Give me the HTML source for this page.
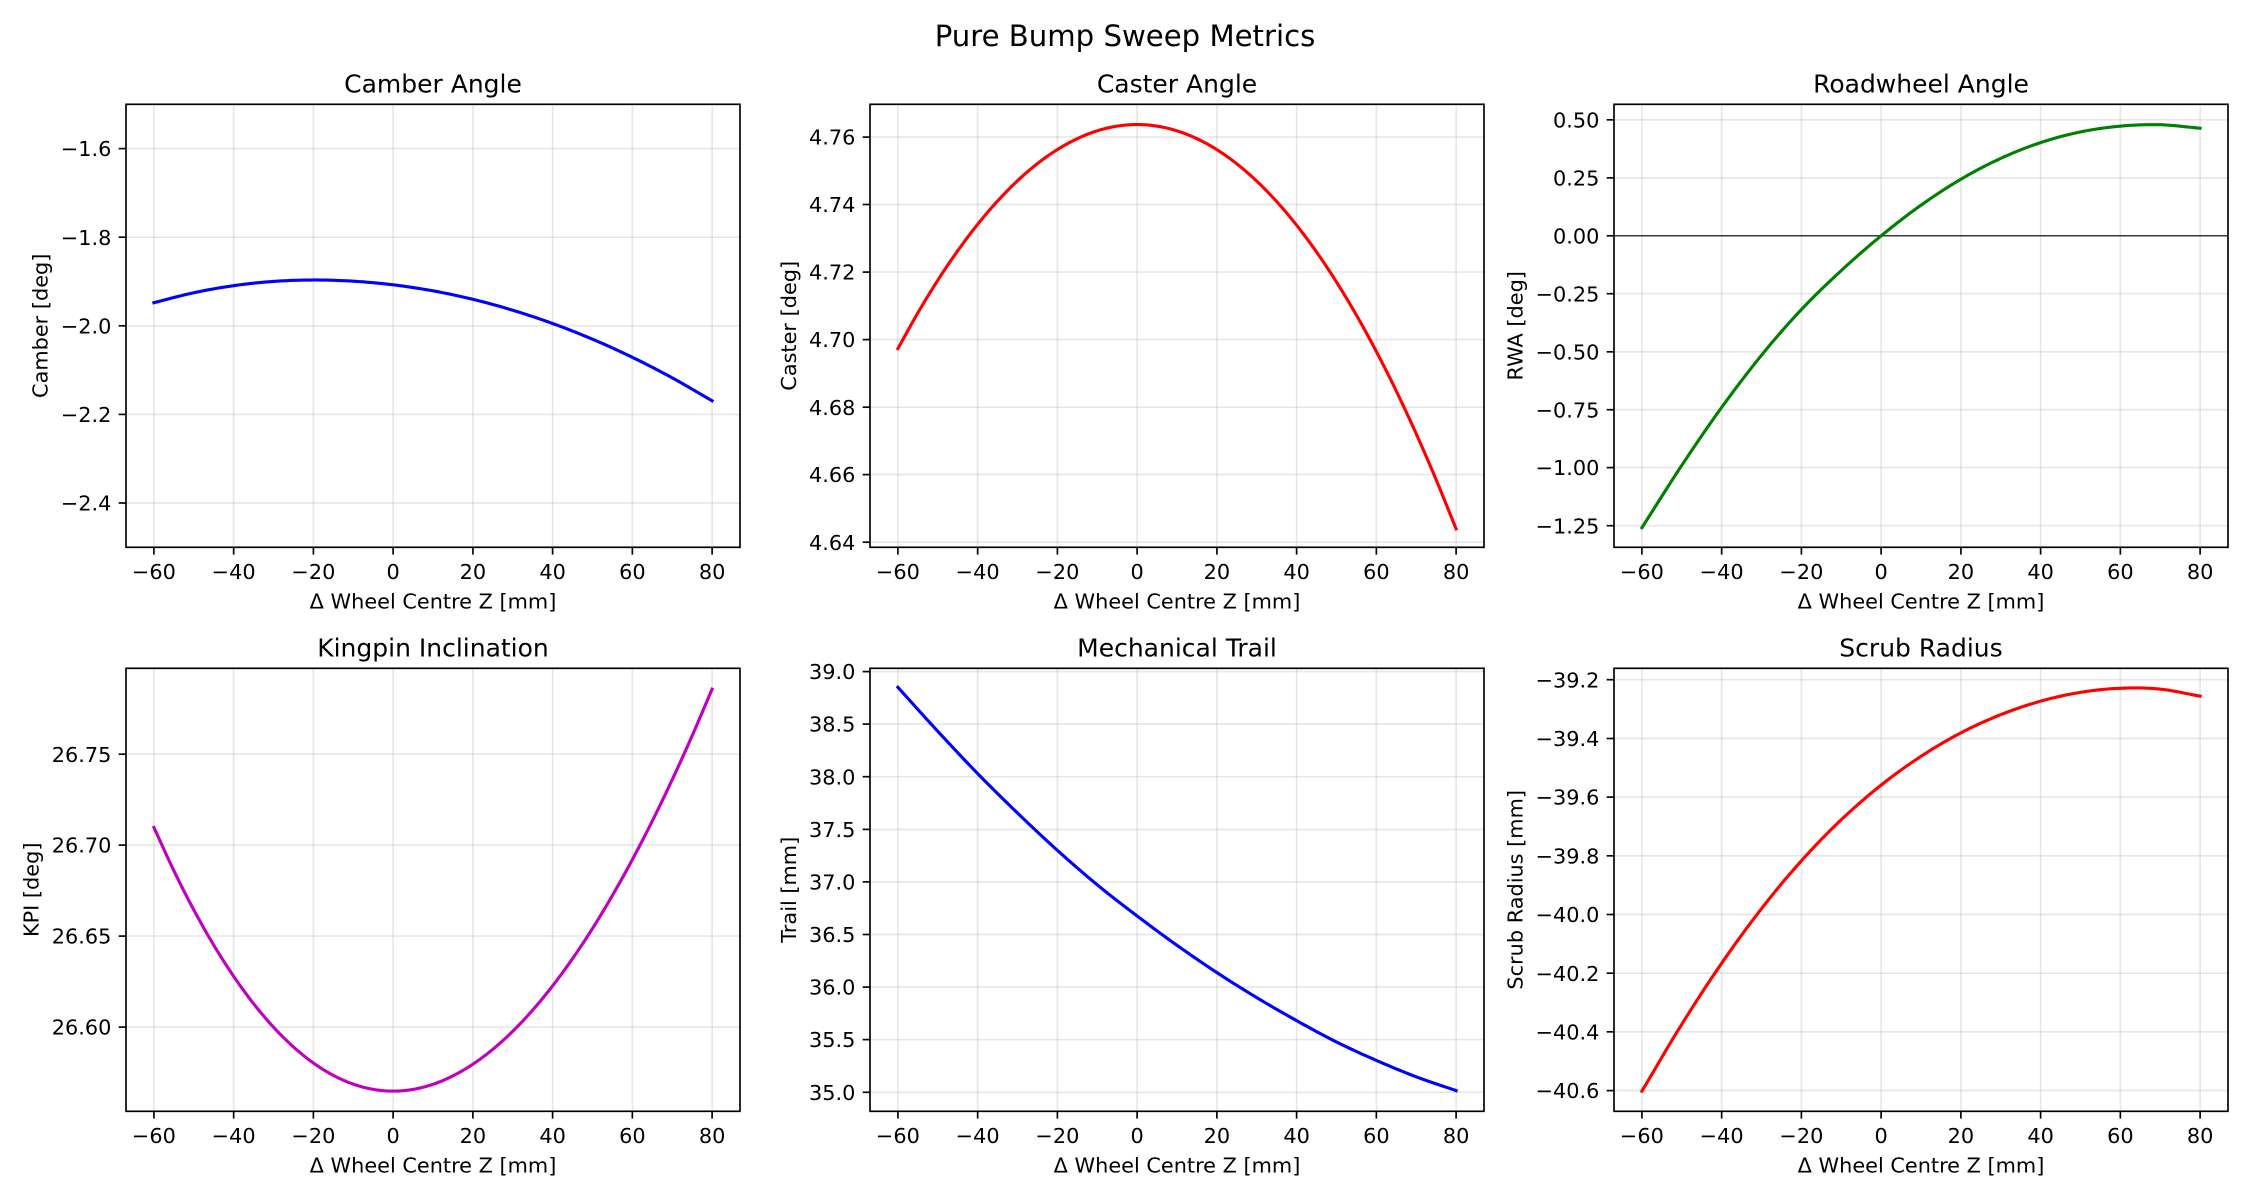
<!DOCTYPE html>
<html><head><meta charset="utf-8"><style>
html,body{margin:0;padding:0;background:#fff;width:2250px;height:1200px;overflow:hidden}
svg{display:block}
text{font-family:"DejaVu Sans","Liberation Sans",sans-serif;fill:#000}
.tk{font-size:20.83px}
.ttl{font-size:25px}
.grid line{stroke:#b0b0b0;stroke-opacity:0.3;stroke-width:1.67}
.ticks line{stroke:#000;stroke-width:1.67}
.spine{fill:none;stroke:#000;stroke-width:1.67}
</style></head><body>
<svg width="2250" height="1200" viewBox="0 0 2250 1200" xmlns="http://www.w3.org/2000/svg">
<rect width="2250" height="1200" fill="#fff"/>
<text x="1125" y="46.2" text-anchor="middle" style="font-size:29.17px">Pure Bump Sweep Metrics</text>

<!-- P1 Camber -->
<g transform="translate(126,104.3)">
<g class="grid">
<line x1="27.9" y1="0" x2="27.9" y2="443"/><line x1="107.65" y1="0" x2="107.65" y2="443"/><line x1="187.4" y1="0" x2="187.4" y2="443"/><line x1="267.1" y1="0" x2="267.1" y2="443"/><line x1="346.9" y1="0" x2="346.9" y2="443"/><line x1="426.6" y1="0" x2="426.6" y2="443"/><line x1="506.35" y1="0" x2="506.35" y2="443"/><line x1="586.1" y1="0" x2="586.1" y2="443"/>
<line x1="0" y1="44.3" x2="614" y2="44.3"/><line x1="0" y1="132.9" x2="614" y2="132.9"/><line x1="0" y1="221.5" x2="614" y2="221.5"/><line x1="0" y1="310.1" x2="614" y2="310.1"/><line x1="0" y1="398.7" x2="614" y2="398.7"/>
</g>
<svg x="0" y="0" width="614" height="443" viewBox="-67 1.5 154 1" preserveAspectRatio="none"><polyline class="cv" vector-effect="non-scaling-stroke" fill="none" stroke="#0000ff" stroke-width="3.125" stroke-linejoin="round" stroke-linecap="square" points="-60,1.9478 -50,1.9254 -40,1.9094 -30,1.8998 -20,1.8966 -10,1.8993 0,1.9075 10,1.9211 20,1.9402 30,1.9648 40,1.9948 50,2.0302 60,2.0711 70,2.1175 80,2.1693"/></svg>
<rect class="spine" x="0" y="0" width="614" height="443"/>
<g class="ticks">
<line x1="27.9" y1="443" x2="27.9" y2="450.3"/><line x1="107.65" y1="443" x2="107.65" y2="450.3"/><line x1="187.4" y1="443" x2="187.4" y2="450.3"/><line x1="267.1" y1="443" x2="267.1" y2="450.3"/><line x1="346.9" y1="443" x2="346.9" y2="450.3"/><line x1="426.6" y1="443" x2="426.6" y2="450.3"/><line x1="506.35" y1="443" x2="506.35" y2="450.3"/><line x1="586.1" y1="443" x2="586.1" y2="450.3"/>
<line x1="0" y1="44.3" x2="-7.3" y2="44.3"/><line x1="0" y1="132.9" x2="-7.3" y2="132.9"/><line x1="0" y1="221.5" x2="-7.3" y2="221.5"/><line x1="0" y1="310.1" x2="-7.3" y2="310.1"/><line x1="0" y1="398.7" x2="-7.3" y2="398.7"/>
</g>
<g class="tk" text-anchor="middle">
<text x="27.9" y="474.8">−60</text><text x="107.65" y="474.8">−40</text><text x="187.4" y="474.8">−20</text><text x="267.1" y="474.8">0</text><text x="346.9" y="474.8">20</text><text x="426.6" y="474.8">40</text><text x="506.35" y="474.8">60</text><text x="586.1" y="474.8">80</text>
</g>
<g class="tk" text-anchor="end">
<text x="-14.6" y="51.9">−1.6</text><text x="-14.6" y="140.5">−1.8</text><text x="-14.6" y="229.1">−2.0</text><text x="-14.6" y="317.7">−2.2</text><text x="-14.6" y="406.3">−2.4</text>
</g>
<text class="tk" x="307" y="504" text-anchor="middle">Δ Wheel Centre Z [mm]</text>
<text class="tk" transform="translate(-78.4,221.5) rotate(-90)" text-anchor="middle">Camber [deg]</text>
<text class="ttl" x="307" y="-11.6" text-anchor="middle">Camber Angle</text>
</g>

<!-- P2 Caster -->
<g transform="translate(870,104.3)">
<g class="grid">
<line x1="27.9" y1="0" x2="27.9" y2="443"/><line x1="107.65" y1="0" x2="107.65" y2="443"/><line x1="187.4" y1="0" x2="187.4" y2="443"/><line x1="267.1" y1="0" x2="267.1" y2="443"/><line x1="346.9" y1="0" x2="346.9" y2="443"/><line x1="426.6" y1="0" x2="426.6" y2="443"/><line x1="506.35" y1="0" x2="506.35" y2="443"/><line x1="586.1" y1="0" x2="586.1" y2="443"/>
<line x1="0" y1="32.8" x2="614" y2="32.8"/><line x1="0" y1="100.2" x2="614" y2="100.2"/><line x1="0" y1="167.8" x2="614" y2="167.8"/><line x1="0" y1="235.3" x2="614" y2="235.3"/><line x1="0" y1="302.9" x2="614" y2="302.9"/><line x1="0" y1="370.3" x2="614" y2="370.3"/><line x1="0" y1="437.9" x2="614" y2="437.9"/>
</g>
<svg x="0" y="0" width="614" height="443" viewBox="-67 -4.7697 154 0.1312" preserveAspectRatio="none"><polyline class="cv" vector-effect="non-scaling-stroke" fill="none" stroke="#ff0000" stroke-width="3.125" stroke-linejoin="round" stroke-linecap="square" points="-60,-4.69735 -55,-4.70792 -50,-4.71758 -45,-4.72632 -40,-4.73415 -35,-4.74106 -30,-4.74706 -25,-4.75214 -20,-4.7563 -15,-4.75953 -10,-4.76185 -5,-4.76324 0,-4.7637 5,-4.76323 10,-4.76184 15,-4.75952 20,-4.75626 25,-4.75207 30,-4.74695 35,-4.74089 40,-4.73389 45,-4.72595 50,-4.71708 55,-4.70725 60,-4.69649 65,-4.68478 70,-4.67212 75,-4.65851 80,-4.64396"/></svg>
<rect class="spine" x="0" y="0" width="614" height="443"/>
<g class="ticks">
<line x1="27.9" y1="443" x2="27.9" y2="450.3"/><line x1="107.65" y1="443" x2="107.65" y2="450.3"/><line x1="187.4" y1="443" x2="187.4" y2="450.3"/><line x1="267.1" y1="443" x2="267.1" y2="450.3"/><line x1="346.9" y1="443" x2="346.9" y2="450.3"/><line x1="426.6" y1="443" x2="426.6" y2="450.3"/><line x1="506.35" y1="443" x2="506.35" y2="450.3"/><line x1="586.1" y1="443" x2="586.1" y2="450.3"/>
<line x1="0" y1="32.8" x2="-7.3" y2="32.8"/><line x1="0" y1="100.2" x2="-7.3" y2="100.2"/><line x1="0" y1="167.8" x2="-7.3" y2="167.8"/><line x1="0" y1="235.3" x2="-7.3" y2="235.3"/><line x1="0" y1="302.9" x2="-7.3" y2="302.9"/><line x1="0" y1="370.3" x2="-7.3" y2="370.3"/><line x1="0" y1="437.9" x2="-7.3" y2="437.9"/>
</g>
<g class="tk" text-anchor="middle">
<text x="27.9" y="474.8">−60</text><text x="107.65" y="474.8">−40</text><text x="187.4" y="474.8">−20</text><text x="267.1" y="474.8">0</text><text x="346.9" y="474.8">20</text><text x="426.6" y="474.8">40</text><text x="506.35" y="474.8">60</text><text x="586.1" y="474.8">80</text>
</g>
<g class="tk" text-anchor="end">
<text x="-14.6" y="40.4">4.76</text><text x="-14.6" y="107.8">4.74</text><text x="-14.6" y="175.4">4.72</text><text x="-14.6" y="242.9">4.70</text><text x="-14.6" y="310.5">4.68</text><text x="-14.6" y="377.9">4.66</text><text x="-14.6" y="445.5">4.64</text>
</g>
<text class="tk" x="307" y="504" text-anchor="middle">Δ Wheel Centre Z [mm]</text>
<text class="tk" transform="translate(-74.2,221.5) rotate(-90)" text-anchor="middle">Caster [deg]</text>
<text class="ttl" x="307" y="-11.6" text-anchor="middle">Caster Angle</text>
</g>

<!-- P3 RWA -->
<g transform="translate(1614,104.3)">
<g class="grid">
<line x1="27.9" y1="0" x2="27.9" y2="443"/><line x1="107.65" y1="0" x2="107.65" y2="443"/><line x1="187.4" y1="0" x2="187.4" y2="443"/><line x1="267.1" y1="0" x2="267.1" y2="443"/><line x1="346.9" y1="0" x2="346.9" y2="443"/><line x1="426.6" y1="0" x2="426.6" y2="443"/><line x1="506.35" y1="0" x2="506.35" y2="443"/><line x1="586.1" y1="0" x2="586.1" y2="443"/>
<line x1="0" y1="15.5" x2="614" y2="15.5"/><line x1="0" y1="73.6" x2="614" y2="73.6"/><line x1="0" y1="131.5" x2="614" y2="131.5"/><line x1="0" y1="189.4" x2="614" y2="189.4"/><line x1="0" y1="247.5" x2="614" y2="247.5"/><line x1="0" y1="305.4" x2="614" y2="305.4"/><line x1="0" y1="363.3" x2="614" y2="363.3"/><line x1="0" y1="421.4" x2="614" y2="421.4"/>
</g>
<line x1="0" y1="131.5" x2="614" y2="131.5" stroke="#000" stroke-width="1.1"/>
<svg x="0" y="0" width="614" height="443" viewBox="-67 -0.5672 154 1.9107" preserveAspectRatio="none"><polyline class="cv" vector-effect="non-scaling-stroke" fill="none" stroke="#008000" stroke-width="3.125" stroke-linejoin="round" stroke-linecap="square" points="-60,1.259 -50,0.990 -40,0.740 -30,0.515 -20,0.318 -10,0.150 0,0 10,-0.132 20,-0.244 30,-0.334 40,-0.402 50,-0.448 60,-0.473 70,-0.479 80,-0.464"/></svg>
<rect class="spine" x="0" y="0" width="614" height="443"/>
<g class="ticks">
<line x1="27.9" y1="443" x2="27.9" y2="450.3"/><line x1="107.65" y1="443" x2="107.65" y2="450.3"/><line x1="187.4" y1="443" x2="187.4" y2="450.3"/><line x1="267.1" y1="443" x2="267.1" y2="450.3"/><line x1="346.9" y1="443" x2="346.9" y2="450.3"/><line x1="426.6" y1="443" x2="426.6" y2="450.3"/><line x1="506.35" y1="443" x2="506.35" y2="450.3"/><line x1="586.1" y1="443" x2="586.1" y2="450.3"/>
<line x1="0" y1="15.5" x2="-7.3" y2="15.5"/><line x1="0" y1="73.6" x2="-7.3" y2="73.6"/><line x1="0" y1="131.5" x2="-7.3" y2="131.5"/><line x1="0" y1="189.4" x2="-7.3" y2="189.4"/><line x1="0" y1="247.5" x2="-7.3" y2="247.5"/><line x1="0" y1="305.4" x2="-7.3" y2="305.4"/><line x1="0" y1="363.3" x2="-7.3" y2="363.3"/><line x1="0" y1="421.4" x2="-7.3" y2="421.4"/>
</g>
<g class="tk" text-anchor="middle">
<text x="27.9" y="474.8">−60</text><text x="107.65" y="474.8">−40</text><text x="187.4" y="474.8">−20</text><text x="267.1" y="474.8">0</text><text x="346.9" y="474.8">20</text><text x="426.6" y="474.8">40</text><text x="506.35" y="474.8">60</text><text x="586.1" y="474.8">80</text>
</g>
<g class="tk" text-anchor="end">
<text x="-14.6" y="23.1">0.50</text><text x="-14.6" y="81.2">0.25</text><text x="-14.6" y="139.1">0.00</text><text x="-14.6" y="197">−0.25</text><text x="-14.6" y="255.1">−0.50</text><text x="-14.6" y="313">−0.75</text><text x="-14.6" y="370.9">−1.00</text><text x="-14.6" y="429">−1.25</text>
</g>
<text class="tk" x="307" y="504" text-anchor="middle">Δ Wheel Centre Z [mm]</text>
<text class="tk" transform="translate(-91.6,221.5) rotate(-90)" text-anchor="middle">RWA [deg]</text>
<text class="ttl" x="307" y="-11.6" text-anchor="middle">Roadwheel Angle</text>
</g>

<!-- P4 KPI -->
<g transform="translate(126,668.3)">
<g class="grid">
<line x1="27.9" y1="0" x2="27.9" y2="443"/><line x1="107.65" y1="0" x2="107.65" y2="443"/><line x1="187.4" y1="0" x2="187.4" y2="443"/><line x1="267.1" y1="0" x2="267.1" y2="443"/><line x1="346.9" y1="0" x2="346.9" y2="443"/><line x1="426.6" y1="0" x2="426.6" y2="443"/><line x1="506.35" y1="0" x2="506.35" y2="443"/><line x1="586.1" y1="0" x2="586.1" y2="443"/>
<line x1="0" y1="85.9" x2="614" y2="85.9"/><line x1="0" y1="176.8" x2="614" y2="176.8"/><line x1="0" y1="267.8" x2="614" y2="267.8"/><line x1="0" y1="358.8" x2="614" y2="358.8"/>
</g>
<svg x="0" y="0" width="614" height="443" viewBox="-67 -26.7972 154 0.2435" preserveAspectRatio="none"><polyline class="cv" vector-effect="non-scaling-stroke" fill="none" stroke="#bf00bf" stroke-width="3.125" stroke-linejoin="round" stroke-linecap="square" points="-60,-26.70974 -55,-26.68597 -50,-26.66443 -45,-26.64508 -40,-26.6279 -35,-26.61286 -30,-26.59993 -25,-26.58907 -20,-26.58025 -15,-26.57344 -10,-26.56862 -5,-26.56575 0,-26.5648 5,-26.56574 10,-26.56854 15,-26.57317 20,-26.57959 25,-26.58778 30,-26.59771 35,-26.60935 40,-26.62266 45,-26.63761 50,-26.65418 55,-26.67232 60,-26.69202 65,-26.71325 70,-26.73596 75,-26.76013 80,-26.78573"/></svg>
<rect class="spine" x="0" y="0" width="614" height="443"/>
<g class="ticks">
<line x1="27.9" y1="443" x2="27.9" y2="450.3"/><line x1="107.65" y1="443" x2="107.65" y2="450.3"/><line x1="187.4" y1="443" x2="187.4" y2="450.3"/><line x1="267.1" y1="443" x2="267.1" y2="450.3"/><line x1="346.9" y1="443" x2="346.9" y2="450.3"/><line x1="426.6" y1="443" x2="426.6" y2="450.3"/><line x1="506.35" y1="443" x2="506.35" y2="450.3"/><line x1="586.1" y1="443" x2="586.1" y2="450.3"/>
<line x1="0" y1="85.9" x2="-7.3" y2="85.9"/><line x1="0" y1="176.8" x2="-7.3" y2="176.8"/><line x1="0" y1="267.8" x2="-7.3" y2="267.8"/><line x1="0" y1="358.8" x2="-7.3" y2="358.8"/>
</g>
<g class="tk" text-anchor="middle">
<text x="27.9" y="474.8">−60</text><text x="107.65" y="474.8">−40</text><text x="187.4" y="474.8">−20</text><text x="267.1" y="474.8">0</text><text x="346.9" y="474.8">20</text><text x="426.6" y="474.8">40</text><text x="506.35" y="474.8">60</text><text x="586.1" y="474.8">80</text>
</g>
<g class="tk" text-anchor="end">
<text x="-14.6" y="93.5">26.75</text><text x="-14.6" y="184.4">26.70</text><text x="-14.6" y="275.4">26.65</text><text x="-14.6" y="366.4">26.60</text>
</g>
<text class="tk" x="307" y="504" text-anchor="middle">Δ Wheel Centre Z [mm]</text>
<text class="tk" transform="translate(-87.4,221.5) rotate(-90)" text-anchor="middle">KPI [deg]</text>
<text class="ttl" x="307" y="-11.6" text-anchor="middle">Kingpin Inclination</text>
</g>

<!-- P5 Trail -->
<g transform="translate(870,668.3)">
<g class="grid">
<line x1="27.9" y1="0" x2="27.9" y2="443"/><line x1="107.65" y1="0" x2="107.65" y2="443"/><line x1="187.4" y1="0" x2="187.4" y2="443"/><line x1="267.1" y1="0" x2="267.1" y2="443"/><line x1="346.9" y1="0" x2="346.9" y2="443"/><line x1="426.6" y1="0" x2="426.6" y2="443"/><line x1="506.35" y1="0" x2="506.35" y2="443"/><line x1="586.1" y1="0" x2="586.1" y2="443"/>
<line x1="0" y1="3.3" x2="614" y2="3.3"/><line x1="0" y1="55.8" x2="614" y2="55.8"/><line x1="0" y1="108.4" x2="614" y2="108.4"/><line x1="0" y1="161.1" x2="614" y2="161.1"/><line x1="0" y1="213.6" x2="614" y2="213.6"/><line x1="0" y1="266.2" x2="614" y2="266.2"/><line x1="0" y1="318.8" x2="614" y2="318.8"/><line x1="0" y1="371.3" x2="614" y2="371.3"/><line x1="0" y1="424" x2="614" y2="424"/>
</g>
<svg x="0" y="0" width="614" height="443" viewBox="-67 -39.031 154 4.212" preserveAspectRatio="none"><polyline class="cv" vector-effect="non-scaling-stroke" fill="none" stroke="#0000ff" stroke-width="3.125" stroke-linejoin="round" stroke-linecap="square" points="-60,-38.85 -50,-38.432 -40,-38.03 -30,-37.655 -20,-37.30 -10,-36.972 0,-36.676 10,-36.397 20,-36.138 30,-35.900 40,-35.681 50,-35.478 60,-35.303 70,-35.147 80,-35.016"/></svg>
<rect class="spine" x="0" y="0" width="614" height="443"/>
<g class="ticks">
<line x1="27.9" y1="443" x2="27.9" y2="450.3"/><line x1="107.65" y1="443" x2="107.65" y2="450.3"/><line x1="187.4" y1="443" x2="187.4" y2="450.3"/><line x1="267.1" y1="443" x2="267.1" y2="450.3"/><line x1="346.9" y1="443" x2="346.9" y2="450.3"/><line x1="426.6" y1="443" x2="426.6" y2="450.3"/><line x1="506.35" y1="443" x2="506.35" y2="450.3"/><line x1="586.1" y1="443" x2="586.1" y2="450.3"/>
<line x1="0" y1="3.3" x2="-7.3" y2="3.3"/><line x1="0" y1="55.8" x2="-7.3" y2="55.8"/><line x1="0" y1="108.4" x2="-7.3" y2="108.4"/><line x1="0" y1="161.1" x2="-7.3" y2="161.1"/><line x1="0" y1="213.6" x2="-7.3" y2="213.6"/><line x1="0" y1="266.2" x2="-7.3" y2="266.2"/><line x1="0" y1="318.8" x2="-7.3" y2="318.8"/><line x1="0" y1="371.3" x2="-7.3" y2="371.3"/><line x1="0" y1="424" x2="-7.3" y2="424"/>
</g>
<g class="tk" text-anchor="middle">
<text x="27.9" y="474.8">−60</text><text x="107.65" y="474.8">−40</text><text x="187.4" y="474.8">−20</text><text x="267.1" y="474.8">0</text><text x="346.9" y="474.8">20</text><text x="426.6" y="474.8">40</text><text x="506.35" y="474.8">60</text><text x="586.1" y="474.8">80</text>
</g>
<g class="tk" text-anchor="end">
<text x="-14.6" y="10.9">39.0</text><text x="-14.6" y="63.4">38.5</text><text x="-14.6" y="116">38.0</text><text x="-14.6" y="168.7">37.5</text><text x="-14.6" y="221.2">37.0</text><text x="-14.6" y="273.8">36.5</text><text x="-14.6" y="326.4">36.0</text><text x="-14.6" y="378.9">35.5</text><text x="-14.6" y="431.6">35.0</text>
</g>
<text class="tk" x="307" y="504" text-anchor="middle">Δ Wheel Centre Z [mm]</text>
<text class="tk" transform="translate(-74.2,221.5) rotate(-90)" text-anchor="middle">Trail [mm]</text>
<text class="ttl" x="307" y="-11.6" text-anchor="middle">Mechanical Trail</text>
</g>

<!-- P6 Scrub -->
<g transform="translate(1614,668.3)">
<g class="grid">
<line x1="27.9" y1="0" x2="27.9" y2="443"/><line x1="107.65" y1="0" x2="107.65" y2="443"/><line x1="187.4" y1="0" x2="187.4" y2="443"/><line x1="267.1" y1="0" x2="267.1" y2="443"/><line x1="346.9" y1="0" x2="346.9" y2="443"/><line x1="426.6" y1="0" x2="426.6" y2="443"/><line x1="506.35" y1="0" x2="506.35" y2="443"/><line x1="586.1" y1="0" x2="586.1" y2="443"/>
<line x1="0" y1="11.4" x2="614" y2="11.4"/><line x1="0" y1="70.2" x2="614" y2="70.2"/><line x1="0" y1="128.8" x2="614" y2="128.8"/><line x1="0" y1="187.5" x2="614" y2="187.5"/><line x1="0" y1="246.2" x2="614" y2="246.2"/><line x1="0" y1="304.9" x2="614" y2="304.9"/><line x1="0" y1="363.5" x2="614" y2="363.5"/><line x1="0" y1="422.3" x2="614" y2="422.3"/>
</g>
<svg x="0" y="0" width="614" height="443" viewBox="-67 39.161 154 1.5096" preserveAspectRatio="none"><polyline class="cv" vector-effect="non-scaling-stroke" fill="none" stroke="#ff0000" stroke-width="3.125" stroke-linejoin="round" stroke-linecap="square" points="-60,40.602 -50,40.374 -40,40.166 -30,39.980 -20,39.817 -10,39.677 0,39.559 10,39.461 20,39.381 30,39.319 40,39.273 50,39.243 60,39.229 70,39.232 80,39.256"/></svg>
<rect class="spine" x="0" y="0" width="614" height="443"/>
<g class="ticks">
<line x1="27.9" y1="443" x2="27.9" y2="450.3"/><line x1="107.65" y1="443" x2="107.65" y2="450.3"/><line x1="187.4" y1="443" x2="187.4" y2="450.3"/><line x1="267.1" y1="443" x2="267.1" y2="450.3"/><line x1="346.9" y1="443" x2="346.9" y2="450.3"/><line x1="426.6" y1="443" x2="426.6" y2="450.3"/><line x1="506.35" y1="443" x2="506.35" y2="450.3"/><line x1="586.1" y1="443" x2="586.1" y2="450.3"/>
<line x1="0" y1="11.4" x2="-7.3" y2="11.4"/><line x1="0" y1="70.2" x2="-7.3" y2="70.2"/><line x1="0" y1="128.8" x2="-7.3" y2="128.8"/><line x1="0" y1="187.5" x2="-7.3" y2="187.5"/><line x1="0" y1="246.2" x2="-7.3" y2="246.2"/><line x1="0" y1="304.9" x2="-7.3" y2="304.9"/><line x1="0" y1="363.5" x2="-7.3" y2="363.5"/><line x1="0" y1="422.3" x2="-7.3" y2="422.3"/>
</g>
<g class="tk" text-anchor="middle">
<text x="27.9" y="474.8">−60</text><text x="107.65" y="474.8">−40</text><text x="187.4" y="474.8">−20</text><text x="267.1" y="474.8">0</text><text x="346.9" y="474.8">20</text><text x="426.6" y="474.8">40</text><text x="506.35" y="474.8">60</text><text x="586.1" y="474.8">80</text>
</g>
<g class="tk" text-anchor="end">
<text x="-14.6" y="19">−39.2</text><text x="-14.6" y="77.8">−39.4</text><text x="-14.6" y="136.4">−39.6</text><text x="-14.6" y="195.1">−39.8</text><text x="-14.6" y="253.8">−40.0</text><text x="-14.6" y="312.5">−40.2</text><text x="-14.6" y="371.1">−40.4</text><text x="-14.6" y="429.9">−40.6</text>
</g>
<text class="tk" x="307" y="504" text-anchor="middle">Δ Wheel Centre Z [mm]</text>
<text class="tk" transform="translate(-91.6,221.5) rotate(-90)" text-anchor="middle">Scrub Radius [mm]</text>
<text class="ttl" x="307" y="-11.6" text-anchor="middle">Scrub Radius</text>
</g>
</svg>
<script>
(function(){
  var pls=document.querySelectorAll('polyline.cv');
  for(var k=0;k<pls.length;k++){
    var el=pls[k];
    var raw=el.getAttribute('points').trim().split(/\s+/);
    var p=raw.map(function(s){var a=s.split(',');return [parseFloat(a[0]),parseFloat(a[1])];});
    var n=p.length; if(n<3) continue;
    var ext=[[2*p[0][0]-p[1][0],2*p[0][1]-p[1][1]]].concat(p).concat([[2*p[n-1][0]-p[n-2][0],2*p[n-1][1]-p[n-2][1]]]);
    var out=[];
    for(var i=1;i<ext.length-2;i++){
      var p0=ext[i-1],p1=ext[i],p2=ext[i+1],p3=ext[i+2];
      var steps=12;
      for(var s=0;s<steps;s++){
        var t=s/steps,t2=t*t,t3=t2*t;
        var x=0.5*((2*p1[0])+(-p0[0]+p2[0])*t+(2*p0[0]-5*p1[0]+4*p2[0]-p3[0])*t2+(-p0[0]+3*p1[0]-3*p2[0]+p3[0])*t3);
        var y=0.5*((2*p1[1])+(-p0[1]+p2[1])*t+(2*p0[1]-5*p1[1]+4*p2[1]-p3[1])*t2+(-p0[1]+3*p1[1]-3*p2[1]+p3[1])*t3);
        out.push(x.toFixed(4)+','+y.toFixed(6));
      }
    }
    out.push(p[n-1][0]+','+p[n-1][1]);
    el.setAttribute('points',out.join(' '));
  }
})();
</script>
</body></html>
